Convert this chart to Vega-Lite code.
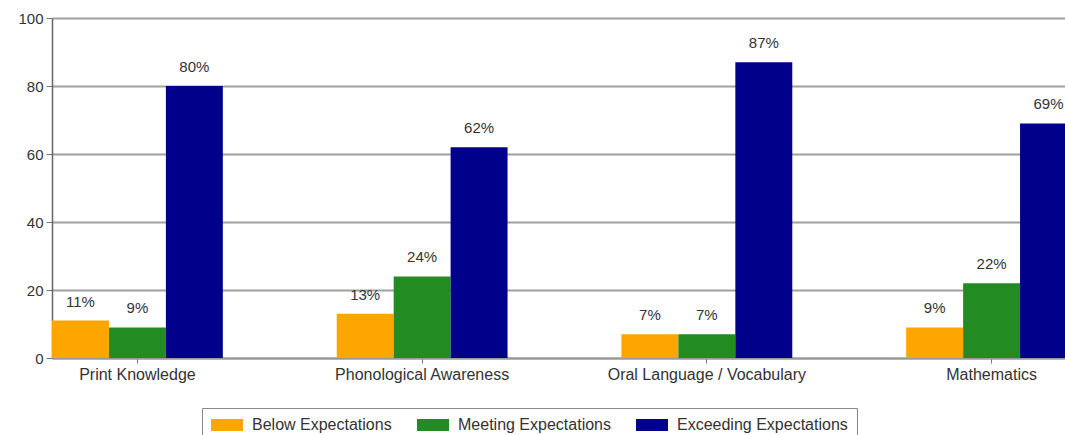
{
  "$schema": "https://vega.github.io/schema/vega-lite/v6.json",
  "autosize": {"type": "none"},
  "padding": {"left": 52, "top": 18, "right": 0, "bottom": 77},
  "width": 1013,
  "height": 340,
  "background": "white",
  "config": {
    "view": {"stroke": null},
    "font": "Liberation Sans"
  },
  "data": {
    "values": [
      {"category": "Print Knowledge", "level": "Below Expectations", "value": 11, "label": "11%"},
      {"category": "Print Knowledge", "level": "Meeting Expectations", "value": 9, "label": "9%"},
      {"category": "Print Knowledge", "level": "Exceeding Expectations", "value": 80, "label": "80%"},
      {"category": "Phonological Awareness", "level": "Below Expectations", "value": 13, "label": "13%"},
      {"category": "Phonological Awareness", "level": "Meeting Expectations", "value": 24, "label": "24%"},
      {"category": "Phonological Awareness", "level": "Exceeding Expectations", "value": 62, "label": "62%"},
      {"category": "Oral Language / Vocabulary", "level": "Below Expectations", "value": 7, "label": "7%"},
      {"category": "Oral Language / Vocabulary", "level": "Meeting Expectations", "value": 7, "label": "7%"},
      {"category": "Oral Language / Vocabulary", "level": "Exceeding Expectations", "value": 87, "label": "87%"},
      {"category": "Mathematics", "level": "Below Expectations", "value": 9, "label": "9%"},
      {"category": "Mathematics", "level": "Meeting Expectations", "value": 22, "label": "22%"},
      {"category": "Mathematics", "level": "Exceeding Expectations", "value": 69, "label": "69%"}
    ]
  },
  "encoding": {
    "x": {
      "field": "category",
      "type": "nominal",
      "sort": null,
      "scale": {"range": [0, 1025], "paddingInner": 0.4, "paddingOuter": 0},
      "axis": {
        "title": null,
        "labelAngle": 0,
        "labelFontSize": 16,
        "labelLimit": 400,
        "labelColor": "#333333",
        "labelPadding": 3,
        "tickSize": 5,
        "tickColor": "#777777",
        "domainColor": "#999999",
        "domainWidth": 2,
        "grid": false
      }
    },
    "xOffset": {
      "field": "level",
      "type": "nominal",
      "scale": {"domain": ["Below Expectations", "Meeting Expectations", "Exceeding Expectations"], "paddingInner": 0, "paddingOuter": 0}
    },
    "y": {
      "field": "value",
      "type": "quantitative",
      "scale": {"domain": [0, 100], "nice": false},
      "axis": {
        "title": null,
        "values": [0, 20, 40, 60, 80, 100],
        "labelFontSize": 15,
        "labelColor": "#333333",
        "labelPadding": 3,
        "tickSize": 6,
        "tickColor": "#777777",
        "domainColor": "#666666",
        "domainWidth": 1.5,
        "gridColor": "#a0a0a0",
        "gridWidth": 2
      }
    }
  },
  "layer": [
    {
      "mark": {"type": "bar", "clip": true},
      "encoding": {
        "color": {
          "field": "level",
          "type": "nominal",
          "scale": {
            "domain": ["Below Expectations", "Meeting Expectations", "Exceeding Expectations"],
            "range": ["#FFA500", "#228B22", "#00008B"]
          },
          "legend": {
            "title": null,
            "orient": "none",
            "legendX": 150,
            "legendY": 390,
            "direction": "horizontal",
            "strokeColor": "#888888",
            "fillColor": "white",
            "padding": 9,
            "columnPadding": 25,
            "labelOffset": 25,
            "labelFontSize": 16,
            "labelLimit": 400,
            "labelColor": "#333333",
            "symbolType": "M-1,-0.75H3V0.75H-1Z",
            "symbolSize": 256,
            "symbolStrokeWidth": 0,
            "symbolOpacity": 1
          }
        }
      }
    },
    {
      "mark": {"type": "text", "baseline": "middle", "dy": -19, "fontSize": 15, "color": "#333333"},
      "encoding": {
        "text": {"field": "label", "type": "nominal"},
        "detail": {"field": "level"}
      }
    }
  ]
}
